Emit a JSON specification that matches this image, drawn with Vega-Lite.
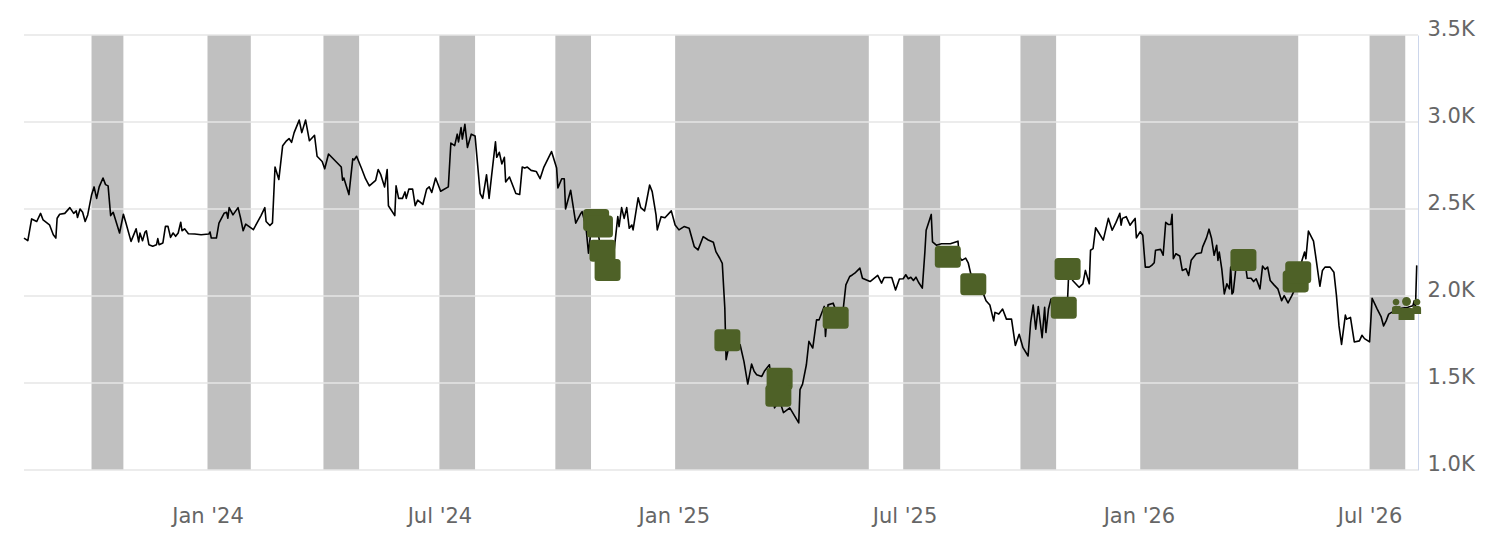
{
  "$schema": "https://vega.github.io/schema/vega-lite/v6.json",
  "width": 1394,
  "height": 435,
  "autosize": {"type": "none"},
  "padding": {"left": 24, "top": 35, "right": 80, "bottom": 68},
  "background": "#ffffff",
  "config": {"view": {"stroke": null}, "font": "DejaVu Sans"},
  "datasets": {
    "bands": [
      {"start": "2023-10-02", "end": "2023-10-27"},
      {"start": "2024-01-01", "end": "2024-02-04"},
      {"start": "2024-04-01", "end": "2024-04-29"},
      {"start": "2024-07-01", "end": "2024-07-29"},
      {"start": "2024-09-30", "end": "2024-10-28"},
      {"start": "2025-01-02", "end": "2025-06-03"},
      {"start": "2025-06-30", "end": "2025-07-29"},
      {"start": "2025-09-30", "end": "2025-10-28"},
      {"start": "2026-01-02", "end": "2026-05-06"},
      {"start": "2026-07-01", "end": "2026-07-29"}
    ],
    "grid": [{"level": 1000}, {"level": 1500}, {"level": 2000}, {"level": 2500}, {"level": 3000}, {"level": 3500}],
    "events": [
      {"date": "2024-11-01", "value": 2437},
      {"date": "2024-11-04", "value": 2399},
      {"date": "2024-11-06", "value": 2260},
      {"date": "2024-11-10", "value": 2150},
      {"date": "2025-02-12", "value": 1745},
      {"date": "2025-03-25", "value": 1524},
      {"date": "2025-03-24", "value": 1426},
      {"date": "2025-05-08", "value": 1875},
      {"date": "2025-08-04", "value": 2226},
      {"date": "2025-08-24", "value": 2067},
      {"date": "2025-11-03", "value": 1932},
      {"date": "2025-11-06", "value": 2155},
      {"date": "2026-03-24", "value": 2207},
      {"date": "2026-05-04", "value": 2084},
      {"date": "2026-05-06", "value": 2137}
    ],
    "groups": [{"date": "2026-07-30", "value": 1925}],
    "price": [
      {"date": "2023-08-10", "value": 2333}, {"date": "2023-08-13", "value": 2318}, {"date": "2023-08-16", "value": 2443},
      {"date": "2023-08-20", "value": 2428}, {"date": "2023-08-23", "value": 2475}, {"date": "2023-08-25", "value": 2437},
      {"date": "2023-08-30", "value": 2409}, {"date": "2023-09-02", "value": 2352}, {"date": "2023-09-04", "value": 2333},
      {"date": "2023-09-05", "value": 2447}, {"date": "2023-09-07", "value": 2470}, {"date": "2023-09-11", "value": 2475},
      {"date": "2023-09-15", "value": 2508}, {"date": "2023-09-18", "value": 2475}, {"date": "2023-09-20", "value": 2489},
      {"date": "2023-09-21", "value": 2451}, {"date": "2023-09-23", "value": 2500}, {"date": "2023-09-25", "value": 2481},
      {"date": "2023-09-27", "value": 2428}, {"date": "2023-09-29", "value": 2466}, {"date": "2023-10-02", "value": 2580},
      {"date": "2023-10-04", "value": 2627}, {"date": "2023-10-06", "value": 2561}, {"date": "2023-10-08", "value": 2627},
      {"date": "2023-10-11", "value": 2678}, {"date": "2023-10-13", "value": 2640}, {"date": "2023-10-15", "value": 2633},
      {"date": "2023-10-17", "value": 2462}, {"date": "2023-10-19", "value": 2481}, {"date": "2023-10-24", "value": 2362},
      {"date": "2023-10-27", "value": 2470}, {"date": "2023-10-29", "value": 2419}, {"date": "2023-11-02", "value": 2314},
      {"date": "2023-11-06", "value": 2386}, {"date": "2023-11-08", "value": 2311}, {"date": "2023-11-09", "value": 2362},
      {"date": "2023-11-11", "value": 2318}, {"date": "2023-11-13", "value": 2368}, {"date": "2023-11-14", "value": 2375},
      {"date": "2023-11-16", "value": 2295}, {"date": "2023-11-19", "value": 2286}, {"date": "2023-11-22", "value": 2295},
      {"date": "2023-11-23", "value": 2330}, {"date": "2023-11-24", "value": 2295}, {"date": "2023-11-27", "value": 2305},
      {"date": "2023-11-29", "value": 2400}, {"date": "2023-12-01", "value": 2400}, {"date": "2023-12-03", "value": 2337},
      {"date": "2023-12-05", "value": 2362}, {"date": "2023-12-07", "value": 2343}, {"date": "2023-12-09", "value": 2362},
      {"date": "2023-12-11", "value": 2424}, {"date": "2023-12-12", "value": 2375}, {"date": "2023-12-14", "value": 2386},
      {"date": "2023-12-17", "value": 2358}, {"date": "2023-12-22", "value": 2356}, {"date": "2023-12-27", "value": 2352},
      {"date": "2024-01-02", "value": 2356}, {"date": "2024-01-03", "value": 2368}, {"date": "2024-01-04", "value": 2333},
      {"date": "2024-01-08", "value": 2333}, {"date": "2024-01-10", "value": 2419}, {"date": "2024-01-14", "value": 2475},
      {"date": "2024-01-16", "value": 2481}, {"date": "2024-01-17", "value": 2447}, {"date": "2024-01-18", "value": 2508},
      {"date": "2024-01-21", "value": 2466}, {"date": "2024-01-25", "value": 2508}, {"date": "2024-01-27", "value": 2447},
      {"date": "2024-01-29", "value": 2375}, {"date": "2024-01-31", "value": 2413}, {"date": "2024-02-06", "value": 2381},
      {"date": "2024-02-12", "value": 2462}, {"date": "2024-02-15", "value": 2508}, {"date": "2024-02-16", "value": 2428},
      {"date": "2024-02-19", "value": 2405}, {"date": "2024-02-21", "value": 2420}, {"date": "2024-02-23", "value": 2741},
      {"date": "2024-02-26", "value": 2670}, {"date": "2024-02-29", "value": 2864}, {"date": "2024-03-03", "value": 2892},
      {"date": "2024-03-05", "value": 2905}, {"date": "2024-03-07", "value": 2883}, {"date": "2024-03-09", "value": 2939},
      {"date": "2024-03-13", "value": 3011}, {"date": "2024-03-15", "value": 2939}, {"date": "2024-03-18", "value": 3011},
      {"date": "2024-03-21", "value": 2892}, {"date": "2024-03-25", "value": 2924}, {"date": "2024-03-27", "value": 2803},
      {"date": "2024-03-31", "value": 2773}, {"date": "2024-04-02", "value": 2731}, {"date": "2024-04-05", "value": 2816},
      {"date": "2024-04-15", "value": 2741}, {"date": "2024-04-16", "value": 2665}, {"date": "2024-04-17", "value": 2678},
      {"date": "2024-04-21", "value": 2583}, {"date": "2024-04-24", "value": 2788}, {"date": "2024-04-25", "value": 2782},
      {"date": "2024-04-27", "value": 2803}, {"date": "2024-05-01", "value": 2731}, {"date": "2024-05-04", "value": 2674},
      {"date": "2024-05-07", "value": 2633}, {"date": "2024-05-12", "value": 2665}, {"date": "2024-05-14", "value": 2727},
      {"date": "2024-05-16", "value": 2697}, {"date": "2024-05-19", "value": 2627}, {"date": "2024-05-21", "value": 2727},
      {"date": "2024-05-22", "value": 2519}, {"date": "2024-05-27", "value": 2462}, {"date": "2024-05-28", "value": 2633},
      {"date": "2024-05-30", "value": 2561}, {"date": "2024-06-02", "value": 2561}, {"date": "2024-06-04", "value": 2598},
      {"date": "2024-06-05", "value": 2561}, {"date": "2024-06-07", "value": 2614}, {"date": "2024-06-10", "value": 2614},
      {"date": "2024-06-12", "value": 2519}, {"date": "2024-06-14", "value": 2551}, {"date": "2024-06-18", "value": 2526},
      {"date": "2024-06-21", "value": 2614}, {"date": "2024-06-23", "value": 2627}, {"date": "2024-06-25", "value": 2595},
      {"date": "2024-06-28", "value": 2678}, {"date": "2024-07-02", "value": 2602}, {"date": "2024-07-08", "value": 2627},
      {"date": "2024-07-10", "value": 2879}, {"date": "2024-07-13", "value": 2864}, {"date": "2024-07-15", "value": 2930},
      {"date": "2024-07-16", "value": 2886}, {"date": "2024-07-18", "value": 2968}, {"date": "2024-07-19", "value": 2902},
      {"date": "2024-07-21", "value": 2987}, {"date": "2024-07-23", "value": 2854}, {"date": "2024-07-26", "value": 2930},
      {"date": "2024-07-29", "value": 2920}, {"date": "2024-08-02", "value": 2589}, {"date": "2024-08-04", "value": 2561},
      {"date": "2024-08-07", "value": 2697}, {"date": "2024-08-09", "value": 2561}, {"date": "2024-08-11", "value": 2693},
      {"date": "2024-08-14", "value": 2886}, {"date": "2024-08-15", "value": 2797}, {"date": "2024-08-17", "value": 2826},
      {"date": "2024-08-19", "value": 2759}, {"date": "2024-08-21", "value": 2797}, {"date": "2024-08-22", "value": 2655},
      {"date": "2024-08-25", "value": 2684}, {"date": "2024-08-30", "value": 2589}, {"date": "2024-09-02", "value": 2583},
      {"date": "2024-09-04", "value": 2741}, {"date": "2024-09-06", "value": 2735}, {"date": "2024-09-08", "value": 2741},
      {"date": "2024-09-11", "value": 2722}, {"date": "2024-09-15", "value": 2716}, {"date": "2024-09-18", "value": 2674},
      {"date": "2024-09-21", "value": 2741}, {"date": "2024-09-27", "value": 2830}, {"date": "2024-10-01", "value": 2735},
      {"date": "2024-10-02", "value": 2621}, {"date": "2024-10-05", "value": 2674}, {"date": "2024-10-07", "value": 2674},
      {"date": "2024-10-08", "value": 2500}, {"date": "2024-10-12", "value": 2608}, {"date": "2024-10-16", "value": 2419},
      {"date": "2024-10-20", "value": 2475}, {"date": "2024-10-21", "value": 2485}, {"date": "2024-10-24", "value": 2399},
      {"date": "2024-10-26", "value": 2246}, {"date": "2024-10-28", "value": 2380}, {"date": "2024-11-01", "value": 2430},
      {"date": "2024-11-04", "value": 2300}, {"date": "2024-11-07", "value": 2230}, {"date": "2024-11-11", "value": 2150},
      {"date": "2024-11-13", "value": 2240}, {"date": "2024-11-15", "value": 2255}, {"date": "2024-11-18", "value": 2456},
      {"date": "2024-11-19", "value": 2399}, {"date": "2024-11-21", "value": 2508}, {"date": "2024-11-23", "value": 2446},
      {"date": "2024-11-25", "value": 2508}, {"date": "2024-11-27", "value": 2389}, {"date": "2024-11-29", "value": 2408},
      {"date": "2024-11-30", "value": 2380}, {"date": "2024-12-04", "value": 2565}, {"date": "2024-12-06", "value": 2508},
      {"date": "2024-12-09", "value": 2489}, {"date": "2024-12-10", "value": 2523}, {"date": "2024-12-13", "value": 2638},
      {"date": "2024-12-15", "value": 2600}, {"date": "2024-12-18", "value": 2466}, {"date": "2024-12-19", "value": 2380},
      {"date": "2024-12-22", "value": 2456}, {"date": "2024-12-25", "value": 2450}, {"date": "2024-12-30", "value": 2489},
      {"date": "2025-01-02", "value": 2408}, {"date": "2025-01-05", "value": 2380}, {"date": "2025-01-09", "value": 2399},
      {"date": "2025-01-13", "value": 2389}, {"date": "2025-01-17", "value": 2284}, {"date": "2025-01-20", "value": 2265},
      {"date": "2025-01-24", "value": 2341}, {"date": "2025-01-28", "value": 2322}, {"date": "2025-02-01", "value": 2309},
      {"date": "2025-02-03", "value": 2255}, {"date": "2025-02-06", "value": 2217}, {"date": "2025-02-08", "value": 2188},
      {"date": "2025-02-10", "value": 1930}, {"date": "2025-02-11", "value": 1634}, {"date": "2025-02-14", "value": 1740},
      {"date": "2025-02-18", "value": 1735}, {"date": "2025-02-22", "value": 1720}, {"date": "2025-02-25", "value": 1624},
      {"date": "2025-02-28", "value": 1494}, {"date": "2025-03-03", "value": 1609}, {"date": "2025-03-05", "value": 1567},
      {"date": "2025-03-07", "value": 1548}, {"date": "2025-03-11", "value": 1538}, {"date": "2025-03-13", "value": 1567},
      {"date": "2025-03-17", "value": 1605}, {"date": "2025-03-21", "value": 1357}, {"date": "2025-03-25", "value": 1400},
      {"date": "2025-03-28", "value": 1330}, {"date": "2025-04-02", "value": 1357}, {"date": "2025-04-09", "value": 1271},
      {"date": "2025-04-10", "value": 1462}, {"date": "2025-04-12", "value": 1494}, {"date": "2025-04-15", "value": 1605},
      {"date": "2025-04-17", "value": 1739}, {"date": "2025-04-20", "value": 1701}, {"date": "2025-04-23", "value": 1863},
      {"date": "2025-04-25", "value": 1863}, {"date": "2025-04-29", "value": 1940}, {"date": "2025-04-30", "value": 1768},
      {"date": "2025-05-02", "value": 1949}, {"date": "2025-05-06", "value": 1959}, {"date": "2025-05-09", "value": 1900},
      {"date": "2025-05-14", "value": 1930}, {"date": "2025-05-16", "value": 2064}, {"date": "2025-05-19", "value": 2112},
      {"date": "2025-05-21", "value": 2121}, {"date": "2025-05-23", "value": 2131}, {"date": "2025-05-27", "value": 2160},
      {"date": "2025-05-29", "value": 2102}, {"date": "2025-06-04", "value": 2083}, {"date": "2025-06-10", "value": 2118},
      {"date": "2025-06-13", "value": 2074}, {"date": "2025-06-15", "value": 2106}, {"date": "2025-06-21", "value": 2106},
      {"date": "2025-06-24", "value": 2035}, {"date": "2025-06-27", "value": 2098}, {"date": "2025-06-30", "value": 2099},
      {"date": "2025-07-02", "value": 2122}, {"date": "2025-07-04", "value": 2099}, {"date": "2025-07-06", "value": 2108},
      {"date": "2025-07-08", "value": 2089}, {"date": "2025-07-10", "value": 2108}, {"date": "2025-07-12", "value": 2079},
      {"date": "2025-07-15", "value": 2045}, {"date": "2025-07-17", "value": 2253}, {"date": "2025-07-18", "value": 2378},
      {"date": "2025-07-21", "value": 2446}, {"date": "2025-07-22", "value": 2469}, {"date": "2025-07-23", "value": 2311},
      {"date": "2025-07-26", "value": 2292}, {"date": "2025-07-30", "value": 2300}, {"date": "2025-08-06", "value": 2300},
      {"date": "2025-08-12", "value": 2315}, {"date": "2025-08-13", "value": 2224}, {"date": "2025-08-15", "value": 2205},
      {"date": "2025-08-18", "value": 2218}, {"date": "2025-08-20", "value": 2191}, {"date": "2025-08-22", "value": 2128},
      {"date": "2025-08-27", "value": 2080}, {"date": "2025-08-31", "value": 2031}, {"date": "2025-09-03", "value": 1973},
      {"date": "2025-09-06", "value": 1948}, {"date": "2025-09-09", "value": 1857}, {"date": "2025-09-10", "value": 1906},
      {"date": "2025-09-13", "value": 1896}, {"date": "2025-09-16", "value": 1925}, {"date": "2025-09-19", "value": 1867},
      {"date": "2025-09-23", "value": 1867}, {"date": "2025-09-26", "value": 1716}, {"date": "2025-09-29", "value": 1780},
      {"date": "2025-10-02", "value": 1703}, {"date": "2025-10-06", "value": 1655}, {"date": "2025-10-08", "value": 1848},
      {"date": "2025-10-10", "value": 1948}, {"date": "2025-10-12", "value": 1809}, {"date": "2025-10-14", "value": 1940},
      {"date": "2025-10-17", "value": 1761}, {"date": "2025-10-19", "value": 1935}, {"date": "2025-10-20", "value": 1790},
      {"date": "2025-10-22", "value": 1925}, {"date": "2025-10-24", "value": 1983}, {"date": "2025-10-30", "value": 1990},
      {"date": "2025-11-04", "value": 1983}, {"date": "2025-11-06", "value": 1983}, {"date": "2025-11-07", "value": 2150},
      {"date": "2025-11-10", "value": 2089}, {"date": "2025-11-15", "value": 2050}, {"date": "2025-11-18", "value": 2070},
      {"date": "2025-11-20", "value": 2147}, {"date": "2025-11-23", "value": 2070}, {"date": "2025-11-24", "value": 2263},
      {"date": "2025-11-26", "value": 2272}, {"date": "2025-11-28", "value": 2392}, {"date": "2025-11-30", "value": 2369},
      {"date": "2025-12-04", "value": 2321}, {"date": "2025-12-08", "value": 2446}, {"date": "2025-12-11", "value": 2378},
      {"date": "2025-12-14", "value": 2423}, {"date": "2025-12-17", "value": 2475}, {"date": "2025-12-18", "value": 2407},
      {"date": "2025-12-19", "value": 2446}, {"date": "2025-12-22", "value": 2456}, {"date": "2025-12-25", "value": 2407},
      {"date": "2025-12-27", "value": 2427}, {"date": "2025-12-29", "value": 2446}, {"date": "2025-12-30", "value": 2334},
      {"date": "2026-01-02", "value": 2369}, {"date": "2026-01-04", "value": 2349}, {"date": "2026-01-06", "value": 2166},
      {"date": "2026-01-09", "value": 2166}, {"date": "2026-01-11", "value": 2176}, {"date": "2026-01-13", "value": 2191},
      {"date": "2026-01-14", "value": 2263}, {"date": "2026-01-18", "value": 2268}, {"date": "2026-01-20", "value": 2234},
      {"date": "2026-01-22", "value": 2423}, {"date": "2026-01-24", "value": 2411}, {"date": "2026-01-26", "value": 2411},
      {"date": "2026-01-27", "value": 2469}, {"date": "2026-01-28", "value": 2214}, {"date": "2026-01-30", "value": 2243},
      {"date": "2026-02-02", "value": 2230}, {"date": "2026-02-04", "value": 2147}, {"date": "2026-02-07", "value": 2156},
      {"date": "2026-02-09", "value": 2118}, {"date": "2026-02-11", "value": 2205}, {"date": "2026-02-15", "value": 2243},
      {"date": "2026-02-19", "value": 2249}, {"date": "2026-02-20", "value": 2282}, {"date": "2026-02-23", "value": 2334},
      {"date": "2026-02-25", "value": 2384}, {"date": "2026-02-27", "value": 2330}, {"date": "2026-03-01", "value": 2234},
      {"date": "2026-03-03", "value": 2292}, {"date": "2026-03-04", "value": 2205}, {"date": "2026-03-05", "value": 2253},
      {"date": "2026-03-07", "value": 2156}, {"date": "2026-03-09", "value": 2012}, {"date": "2026-03-11", "value": 2070},
      {"date": "2026-03-13", "value": 2041}, {"date": "2026-03-14", "value": 2166}, {"date": "2026-03-15", "value": 2012},
      {"date": "2026-03-16", "value": 2021}, {"date": "2026-03-18", "value": 2156}, {"date": "2026-03-24", "value": 2200},
      {"date": "2026-03-26", "value": 2156}, {"date": "2026-03-27", "value": 2102}, {"date": "2026-03-30", "value": 2102},
      {"date": "2026-04-01", "value": 2083}, {"date": "2026-04-03", "value": 2099}, {"date": "2026-04-06", "value": 2041},
      {"date": "2026-04-08", "value": 2172}, {"date": "2026-04-10", "value": 2153}, {"date": "2026-04-12", "value": 2166},
      {"date": "2026-04-14", "value": 2089}, {"date": "2026-04-17", "value": 2064}, {"date": "2026-04-20", "value": 2041},
      {"date": "2026-04-23", "value": 1973}, {"date": "2026-04-25", "value": 2002}, {"date": "2026-04-28", "value": 1960},
      {"date": "2026-05-01", "value": 2002}, {"date": "2026-05-04", "value": 2050}, {"date": "2026-05-07", "value": 2150},
      {"date": "2026-05-09", "value": 2205}, {"date": "2026-05-11", "value": 2253}, {"date": "2026-05-12", "value": 2214},
      {"date": "2026-05-14", "value": 2373}, {"date": "2026-05-18", "value": 2315}, {"date": "2026-05-20", "value": 2214},
      {"date": "2026-05-23", "value": 2056}, {"date": "2026-05-25", "value": 2147}, {"date": "2026-05-27", "value": 2166},
      {"date": "2026-05-31", "value": 2166}, {"date": "2026-06-03", "value": 2137}, {"date": "2026-06-05", "value": 2002},
      {"date": "2026-06-07", "value": 1828}, {"date": "2026-06-09", "value": 1722}, {"date": "2026-06-12", "value": 1890},
      {"date": "2026-06-13", "value": 1867}, {"date": "2026-06-16", "value": 1877}, {"date": "2026-06-19", "value": 1736},
      {"date": "2026-06-23", "value": 1742}, {"date": "2026-06-25", "value": 1774}, {"date": "2026-06-27", "value": 1755},
      {"date": "2026-07-01", "value": 1736}, {"date": "2026-07-03", "value": 1987}, {"date": "2026-07-07", "value": 1925},
      {"date": "2026-07-09", "value": 1896}, {"date": "2026-07-10", "value": 1882}, {"date": "2026-07-12", "value": 1828},
      {"date": "2026-07-14", "value": 1857}, {"date": "2026-07-16", "value": 1896}, {"date": "2026-07-19", "value": 1909},
      {"date": "2026-07-22", "value": 1925}, {"date": "2026-07-26", "value": 1930}, {"date": "2026-07-31", "value": 1935},
      {"date": "2026-08-04", "value": 1944}, {"date": "2026-08-05", "value": 1973}, {"date": "2026-08-06", "value": 1930},
      {"date": "2026-08-07", "value": 2176}
    ]
  },
  "layer": [
    {
      "data": {"name": "bands"},
      "mark": {"type": "rect", "color": "#c0c0c0"},
      "encoding": {
        "x": {
          "field": "start", "type": "temporal",
          "scale": {"type": "utc", "domain": [{"year": 2023, "month": 8, "date": 10, "utc": true}, {"year": 2026, "month": 8, "date": 8, "utc": true}]},
          "axis": {
            "values": [
              {"year": 2024, "month": 1, "date": 1, "utc": true},
              {"year": 2024, "month": 7, "date": 1, "utc": true},
              {"year": 2025, "month": 1, "date": 1, "utc": true},
              {"year": 2025, "month": 7, "date": 1, "utc": true},
              {"year": 2026, "month": 1, "date": 1, "utc": true},
              {"year": 2026, "month": 7, "date": 1, "utc": true}
            ],
            "format": "%b '%y",
            "grid": false, "ticks": false, "tickSize": 0, "domain": false,
            "labelPadding": 52, "labelBaseline": "alphabetic",
            "labelFontSize": 21, "labelColor": "#666666", "labelFont": "DejaVu Sans",
            "labelFlush": false, "labelOverlap": false, "title": null
          }
        },
        "x2": {"field": "end"}
      }
    },
    {
      "data": {"name": "grid"},
      "mark": {"type": "rule", "color": "#e6e6e6", "strokeWidth": 1.3},
      "encoding": {
        "y": {
          "field": "level", "type": "quantitative",
          "scale": {"domain": [1000, 3500], "nice": false, "zero": false},
          "axis": {
            "orient": "right",
            "values": [1000, 1500, 2000, 2500, 3000, 3500],
            "labelExpr": "format(datum.value / 1000, '.1f') + 'K'",
            "grid": false, "ticks": false, "tickSize": 0,
            "domain": true, "domainColor": "#ccd6eb", "domainWidth": 1,
            "labelPadding": 9, "labelBaseline": "alphabetic", "labelAlign": "left",
            "labelFontSize": 21, "labelColor": "#666666", "labelFont": "DejaVu Sans",
            "labelFlush": false, "labelOverlap": false, "title": null
          }
        }
      }
    },
    {
      "data": {"name": "price"},
      "mark": {"type": "line", "color": "#000000", "strokeWidth": 1.6, "strokeJoin": "round"},
      "encoding": {
        "x": {"field": "date", "type": "temporal", "scale": {"type": "utc", "domain": [{"year": 2023, "month": 8, "date": 10, "utc": true}, {"year": 2026, "month": 8, "date": 8, "utc": true}]}, "title": null},
        "y": {"field": "value", "type": "quantitative", "scale": {"domain": [1000, 3500], "nice": false, "zero": false}, "title": null}
      }
    },
    {
      "data": {"name": "events"},
      "mark": {
        "type": "point", "filled": true, "opacity": 1, "color": "#4e6127", "strokeWidth": 0, "size": 676,
        "shape": "M-0.73,-0.846L0.73,-0.846Q1,-0.846 1,-0.576L1,0.576Q1,0.846 0.73,0.846L-0.73,0.846Q-1,0.846 -1,0.576L-1,-0.576Q-1,-0.846 -0.73,-0.846Z"
      },
      "encoding": {
        "x": {"field": "date", "type": "temporal", "scale": {"type": "utc", "domain": [{"year": 2023, "month": 8, "date": 10, "utc": true}, {"year": 2026, "month": 8, "date": 8, "utc": true}]}, "title": null},
        "y": {"field": "value", "type": "quantitative", "scale": {"domain": [1000, 3500], "nice": false, "zero": false}, "title": null}
      }
    },
    {
      "data": {"name": "groups"},
      "mark": {
        "type": "point", "filled": true, "opacity": 1, "color": "#4e6127", "strokeWidth": 0, "size": 784,
        "shape": "M-0.32,-0.54a0.32,0.32 0 1,0 0.64,0a0.32,0.32 0 1,0 -0.64,0ZM-0.99,-0.5a0.24,0.24 0 1,0 0.48,0a0.24,0.24 0 1,0 -0.48,0ZM0.51,-0.5a0.24,0.24 0 1,0 0.48,0a0.24,0.24 0 1,0 -0.48,0ZM-0.57,0.79L-0.57,0.18Q-0.57,-0.07 -0.32,-0.07L0.32,-0.07Q0.57,-0.07 0.57,0.18L0.57,0.79ZM-1.04,0.36L-1.04,-0.01Q-1.04,-0.21 -0.84,-0.21L-0.43,-0.21L-0.43,0.36ZM0.43,0.36L0.43,-0.21L0.84,-0.21Q1.04,-0.21 1.04,-0.01L1.04,0.36Z"
      },
      "encoding": {
        "x": {"field": "date", "type": "temporal", "scale": {"type": "utc", "domain": [{"year": 2023, "month": 8, "date": 10, "utc": true}, {"year": 2026, "month": 8, "date": 8, "utc": true}]}, "title": null},
        "y": {"field": "value", "type": "quantitative", "scale": {"domain": [1000, 3500], "nice": false, "zero": false}, "title": null}
      }
    }
  ]
}
